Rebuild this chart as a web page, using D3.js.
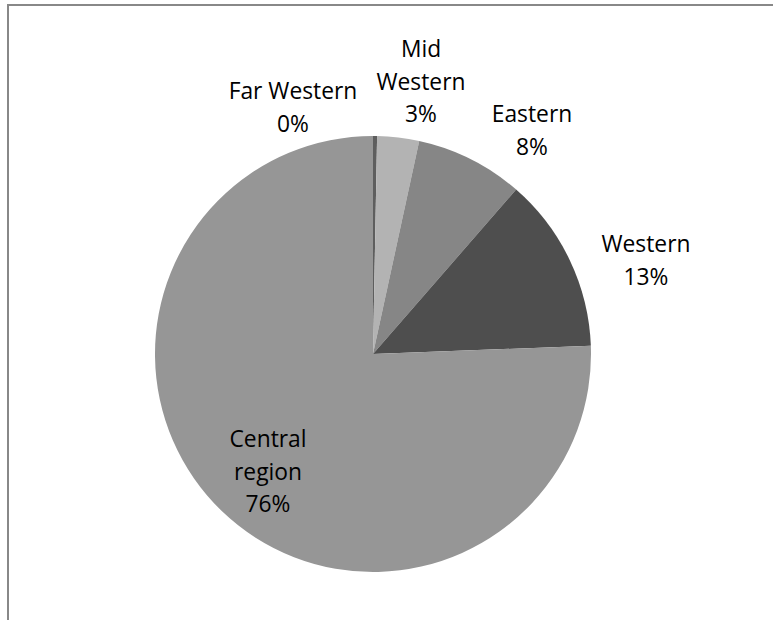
<!DOCTYPE html>
<html><head><meta charset="utf-8">
<script src="https://cdn.jsdelivr.net/npm/d3@7"></script>
<style>html,body{margin:0;padding:0;background:#fff;overflow:hidden}</style>
</head><body>
<svg id="c" width="773" height="620"></svg>
<script>
const categories = ["Far Western", "Mid Western", "Eastern", "Western", "Central region"];
const values = [0.3, 3.1, 8.0, 13.0, 75.6];
const colors = ["#5e5e5e", "#b3b3b3", "#868686", "#4e4e4e", "#969696"];
// label lines (name split for wrapping)
const labelLines = [["Far Western"], ["Mid", "Western"], ["Eastern"], ["Western"], ["Central", "region"]];
const labelPos = [[293, 99], [421, 57], [532, 122], [646, 252], [268, 447]];

const svg = d3.select("#c");
svg.append("rect").attr("x", 8).attr("y", 5).attr("width", 900).attr("height", 900)
  .attr("fill", "none").attr("stroke", "#888").attr("stroke-width", 2);

const cx = 373, cy = 354, r = 218;
const total = d3.sum(values);
const pie = d3.pie().sort(null).value(d => d)(values);
const arc = d3.arc().innerRadius(0).outerRadius(r);
const g = svg.append("g").attr("transform", `translate(${cx},${cy})`);
g.selectAll("path").data(pie).join("path")
  .attr("d", arc).attr("fill", (d, i) => colors[i]);

const lh = 32.5;
categories.forEach((c, i) => {
  const lines = labelLines[i].concat([Math.round(values[i] / total * 100) + "%"]);
  const t = svg.append("text").attr("text-anchor", "middle")
    .attr("font-family", "'Open Sans', sans-serif").attr("font-size", 22.8).attr("fill", "#000");
  lines.forEach((l, k) => {
    t.append("tspan").attr("x", labelPos[i][0]).attr("y", labelPos[i][1] + k * lh).text(l);
  });
});
</script>
</body></html>
